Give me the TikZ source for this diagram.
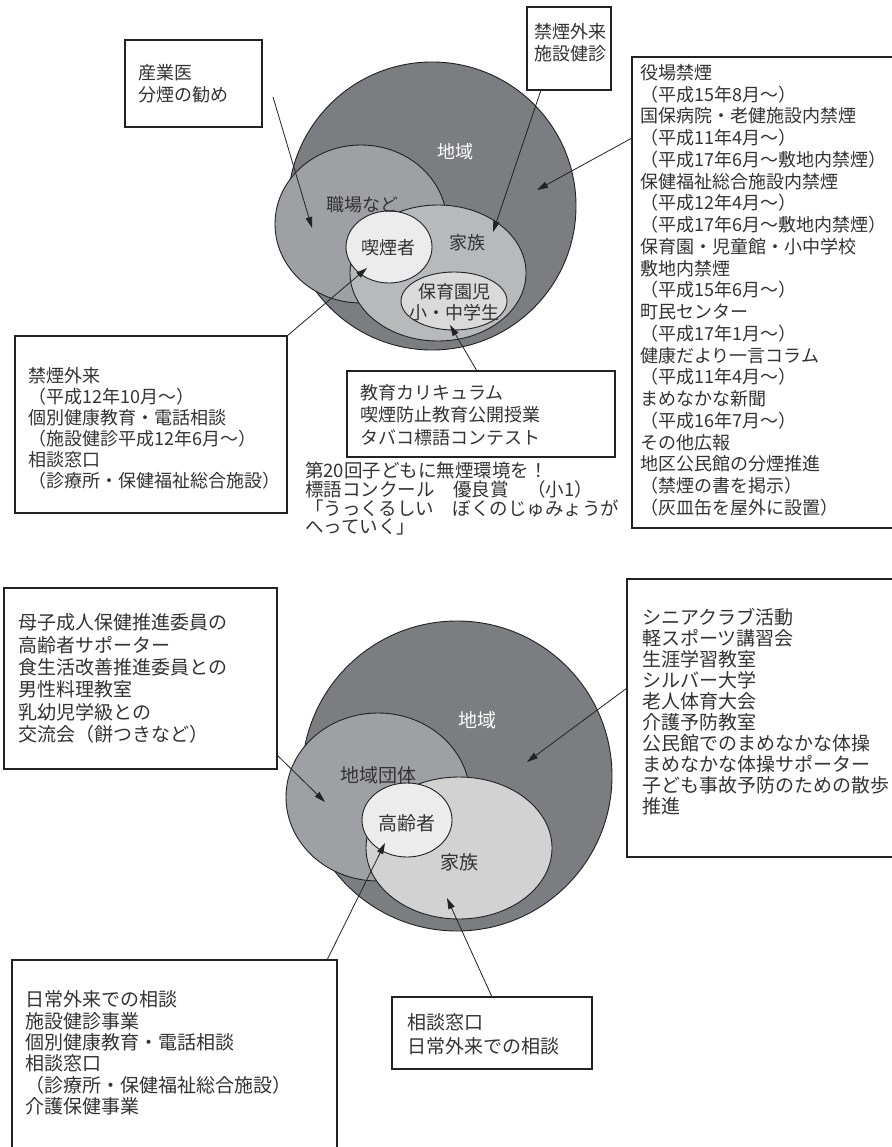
\documentclass[tikz,border=0pt]{standalone}
\usepackage{fontspec}
\setmainfont{Noto Sans CJK JP}
\usetikzlibrary{shapes.geometric,arrows.meta}
\definecolor{cdark}{HTML}{7C7D81}
\definecolor{cmid}{HTML}{9FA0A4}
\definecolor{cfam}{HTML}{B8B9BB}
\definecolor{cfamb}{HTML}{D2D2D3}
\definecolor{cin}{HTML}{ECECEC}
\definecolor{ckid}{HTML}{DADADA}
\definecolor{textc}{HTML}{333333}
\definecolor{linec}{HTML}{222222}
\begin{document}
\begin{tikzpicture}[x=1pt,y=-1pt,
  boxn/.style={draw=linec,line width=1.1pt,anchor=north west,inner sep=0pt,outer sep=0pt},
  txta/.style={anchor=north west,inner sep=0pt,align=left,text=textc,font=\fontsize{18}{21.75}\selectfont},
  txtb/.style={anchor=north west,inner sep=0pt,align=left,text=textc,font=\fontsize{19}{21.4}\selectfont},
  blob/.style={draw=linec,line width=0.9pt,inner sep=0pt,outer sep=0pt},
  lbla/.style={inner sep=0pt,align=center,text=textc,font=\fontsize{18}{21}\selectfont},
  lblb/.style={inner sep=0pt,align=center,text=textc,font=\fontsize{19}{22}\selectfont},
  arr/.style={draw=linec,line width=0.8pt,-{Triangle[length=11pt,width=6.5pt]}}]
\useasboundingbox (0,0) rectangle (891,1147);
\fill[white] (0,0) rectangle (891,1147);

% ---------------- top figure ----------------
\node[blob,circle,fill=cdark,minimum size=288pt] (areaA) at (432,206) {};
\node[blob,ellipse,fill=cmid,minimum width=172pt,minimum height=158pt] (work) at (361,224) {};
\node[blob,ellipse,fill=cfam,minimum width=176pt,minimum height=136pt] (famA) at (438,273) {};
\node[blob,ellipse,fill=cin,minimum width=86pt,minimum height=72pt] (smoker) at (389,247) {};
\node[blob,ellipse,fill=ckid,minimum width=106pt,minimum height=58pt] (kids) at (454,301) {};

\node[lbla,text=white] (lAreaA) at (455,152) {地域};
\node[lbla] (lWork) at (362,205) {職場など};
\node[lbla] (lSmoker) at (388,248) {喫煙者};
\node[lbla] (lFamA) at (467,243) {家族};
\node[lbla] (lKids) at (454,302) {保育園児\\小・中学生};

\node[boxn,minimum width=137pt,minimum height=87pt] (b1) at (125,40) {};
\node[txta,font=\fontsize{18}{22}\selectfont] (t1) at (138,64) {産業医\\分煙の勧め};

\node[boxn,minimum width=84pt,minimum height=83pt] (b2) at (527,7) {};
\node[txta,font=\fontsize{18}{22}\selectfont] (t2) at (534,23) {禁煙外来\\施設健診};

\node[boxn,minimum width=280pt,minimum height=471pt] (b3) at (632,57) {};
\node[txta] (t3) at (640,64) {役場禁煙\\（平成15年8月～）\\国保病院・老健施設内禁煙\\（平成11年4月～）\\（平成17年6月～敷地内禁煙）\\保健福祉総合施設内禁煙\\（平成12年4月～）\\（平成17年6月～敷地内禁煙）\\保育園・児童館・小中学校\\敷地内禁煙\\（平成15年6月～）\\町民センター\\（平成17年1月～）\\健康だより一言コラム\\（平成11年4月～）\\まめなかな新聞\\（平成16年7月～）\\その他広報\\地区公民館の分煙推進\\（禁煙の書を掲示）\\（灰皿缶を屋外に設置）};

\node[boxn,minimum width=272pt,minimum height=177pt] (b4) at (15,336) {};
\node[txta,font=\fontsize{18}{21}\selectfont] (t4) at (28,367) {禁煙外来\\（平成12年10月～）\\個別健康教育・電話相談\\（施設健診平成12年6月～）\\相談窓口\\（診療所・保健福祉総合施設）};

\node[boxn,minimum width=268pt,minimum height=86pt] (b5) at (347,371) {};
\node[txta,font=\fontsize{18}{22.5}\selectfont] (t5) at (360,384) {教育カリキュラム\\喫煙防止教育公開授業\\タバコ標語コンテスト};

\node[txta,font=\fontsize{18.5}{18.6}\selectfont] (t6) at (305,462) {第20回子どもに無煙環境を！\\標語コンクール　優良賞　（小1）\\「うっくるしい　ぼくのじゅみょうが\\へっていく」};

\coordinate (s1) at (273,97);
\coordinate (e1) at (312,228);
\coordinate (s2) at (541,90);
\coordinate (e2) at (493,232);
\coordinate (s3) at (632,138);
\coordinate (e3) at (537,190);
\coordinate (e4) at (367,268);
\coordinate (s5) at (477,371);
\coordinate (e5) at (450,325);
\draw[arr] (s1) -- (e1);
\draw[arr] (s2) -- (e2);
\draw[arr] (s3) -- (e3);
\draw[arr] (b4.north east) -- (e4);
\draw[arr] (s5) -- (e5);

% ---------------- bottom figure ----------------
\node[blob,circle,fill=cdark,minimum size=310pt] (areaB) at (457,776) {};
\node[blob,ellipse,fill=cmid,minimum width=184pt,minimum height=168pt] (group) at (378,797) {};
\node[blob,ellipse,fill=cfamb,minimum width=186pt,minimum height=142pt] (famB) at (459,848) {};
\node[blob,ellipse,fill=cin,minimum width=90pt,minimum height=74pt] (elder) at (407,820) {};

\node[lblb,text=white] (lAreaB) at (477,720) {地域};
\node[lblb] (lGroup) at (378,775) {地域団体};
\node[lblb] (lElder) at (407,823) {高齢者};
\node[lblb] (lFamB) at (459,862) {家族};

\node[boxn,minimum width=273pt,minimum height=181pt] (b6) at (4,588) {};
\node[txtb,font=\fontsize{19}{22.4}\selectfont] (t7) at (18,613.5) {母子成人保健推進委員の\\高齢者サポーター\\食生活改善推進委員との\\男性料理教室\\乳幼児学級との\\交流会（餅つきなど）};

\node[boxn,minimum width=290pt,minimum height=278pt] (b7) at (627,579) {};
\node[txtb,font=\fontsize{19}{21}\selectfont] (t8) at (642,608.5) {シニアクラブ活動\\軽スポーツ講習会\\生涯学習教室\\シルバー大学\\老人体育大会\\介護予防教室\\公民館でのまめなかな体操\\まめなかな体操サポーター\\子ども事故予防のための散歩\\推進};

\node[boxn,minimum width=325pt,minimum height=220pt] (b8) at (12,960) {};
\node[txtb] (t9) at (25,990.5) {日常外来での相談\\施設健診事業\\個別健康教育・電話相談\\相談窓口\\（診療所・保健福祉総合施設）\\介護保健事業};

\node[boxn,minimum width=200pt,minimum height=72pt] (b9) at (392,997) {};
\node[txtb,font=\fontsize{19}{24}\selectfont] (t10) at (407,1013.5) {相談窓口\\日常外来での相談};

\coordinate (s6) at (277,755);
\coordinate (e6) at (325,802);
\coordinate (s7) at (627,688);
\coordinate (e7) at (527,762);
\coordinate (s8) at (327,960);
\coordinate (e8) at (385,843);
\coordinate (s9) at (492,997);
\coordinate (e9) at (447,898);
\draw[arr] (s6) -- (e6);
\draw[arr] (s7) -- (e7);
\draw[arr] (s8) -- (e8);
\draw[arr] (s9) -- (e9);
\end{tikzpicture}
\end{document}
